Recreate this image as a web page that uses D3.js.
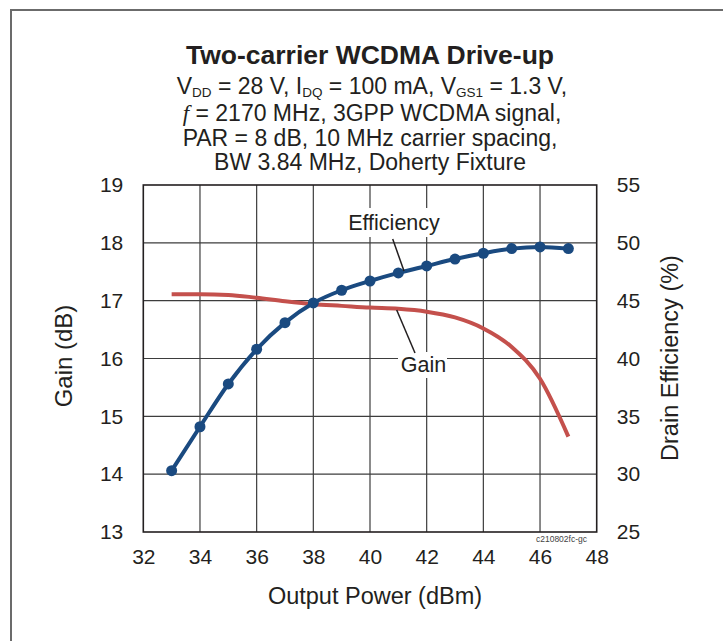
<!DOCTYPE html>
<html><head><meta charset="utf-8">
<script src="https://cdn.jsdelivr.net/npm/d3@7"></script>
<style>
html,body{margin:0;padding:0;background:#fff;}
svg{display:block;font-family:"Liberation Sans",Arial,Helvetica,sans-serif;}
</style></head>
<body>
<svg id="chart" width="723" height="641"></svg>
<script>
// ---- data ----
const outputPower = [33,34,35,36,37,38,39,40,41,42,43,44,45,46,47];
const gainDb      = [17.11,17.11,17.10,17.05,16.99,16.94,16.91,16.88,16.86,16.81,16.71,16.52,16.20,15.65,14.65];
const efficiency  = [30.3,34.1,37.8,40.8,43.1,44.8,45.9,46.7,47.4,48.0,48.6,49.1,49.5,49.65,49.5];
const xTicks  = [32,34,36,38,40,42,44,46,48];
const yLTicks = [13,14,15,16,17,18,19];
const yRTicks = [25,30,35,40,45,50,55];

const svg = d3.select("#chart");
const L = 143.3, R = 596.7, T = 185, B = 532;
const x  = d3.scaleLinear().domain([32,48]).range([L,R]);
const yL = d3.scaleLinear().domain([13,19]).range([B,T]);
const yR = d3.scaleLinear().domain([25,55]).range([B,T]);

// outer frame (top & left)
svg.append("line").attr("x1",10).attr("x2",723).attr("y1",10).attr("y2",10)
  .attr("stroke","#6b6b6b").attr("stroke-width",2);
svg.append("line").attr("x1",11).attr("x2",11).attr("y1",9).attr("y2",641)
  .attr("stroke","#6b6b6b").attr("stroke-width",2);

// title
svg.append("text").attr("x",370).attr("y",64).attr("text-anchor","middle")
  .style("font-size","26.5px").style("font-weight","bold").attr("fill","#231f20")
  .text("Two-carrier WCDMA Drive-up");
const sub = svg.append("g").attr("fill","#231f20").style("font-size","23px");
const l2 = sub.append("text").attr("x",372).attr("y",94).attr("text-anchor","middle");
const addT = (el, s, opts={}) => {
  const t = el.append("tspan").text(s);
  if (opts.sub) t.style("font-size","13.5px").attr("baseline-shift","-3");
  if (opts.it) t.style("font-style","italic").style("font-family","'Liberation Serif','Times New Roman',serif");
  return t;
};
addT(l2,"V"); addT(l2,"DD",{sub:1}); addT(l2," = 28 V, I"); addT(l2,"DQ",{sub:1});
addT(l2," = 100 mA, V"); addT(l2,"GS1",{sub:1}); addT(l2," = 1.3 V,");
const l3 = sub.append("text").attr("x",372).attr("y",121).attr("text-anchor","middle");
addT(l3,"f",{it:1}); addT(l3," = 2170 MHz, 3GPP WCDMA signal,");
sub.append("text").attr("x",370).attr("y",145.5).attr("text-anchor","middle")
  .text("PAR = 8 dB, 10 MHz carrier spacing,");
sub.append("text").attr("x",370).attr("y",170).attr("text-anchor","middle")
  .text("BW 3.84 MHz, Doherty Fixture");

// grid
const grid = svg.append("g").attr("stroke","#3d3d3d").attr("stroke-width",1.2);
grid.selectAll(".gx").data(xTicks.slice(1,-1)).join("line")
  .attr("x1",d=>x(d)).attr("x2",d=>x(d)).attr("y1",T).attr("y2",B);
grid.selectAll(".gy").data(yLTicks.slice(1,-1)).join("line")
  .attr("y1",d=>yL(d)).attr("y2",d=>yL(d)).attr("x1",L).attr("x2",R);
svg.append("rect").attr("x",L).attr("y",T).attr("width",R-L).attr("height",B-T)
  .attr("fill","none").attr("stroke","#231f20").attr("stroke-width",1.6);

// axes
const styleAxis = g => {
  g.select(".domain").remove();
  g.selectAll("text").style("font-size","21px").style("font-family","'Liberation Sans',Arial,sans-serif").attr("fill","#231f20");
};
svg.append("g").attr("transform",`translate(0,${B})`)
  .call(d3.axisBottom(x).tickValues(xTicks).tickSize(0).tickPadding(17).tickFormat(d3.format("d")))
  .call(styleAxis);
svg.append("g").attr("transform",`translate(${L},0)`)
  .call(d3.axisLeft(yL).tickValues(yLTicks).tickSize(0).tickPadding(20).tickFormat(d3.format("d")))
  .call(styleAxis);
svg.append("g").attr("transform",`translate(${R},0)`)
  .call(d3.axisRight(yR).tickValues(yRTicks).tickSize(0).tickPadding(20).tickFormat(d3.format("d")))
  .call(styleAxis);

// axis titles
svg.append("text").attr("x",375).attr("y",604).attr("text-anchor","middle")
  .style("font-size","23.5px").attr("fill","#231f20").text("Output Power (dBm)");
svg.append("text").attr("transform","translate(72,356) rotate(-90)").attr("text-anchor","middle")
  .style("font-size","24px").attr("fill","#231f20").text("Gain (dB)");
svg.append("text").attr("transform","translate(678,358) rotate(-90)").attr("text-anchor","middle")
  .style("font-size","23.5px").attr("fill","#231f20").text("Drain Efficiency (%)");

// watermark
svg.append("text").attr("x",587).attr("y",542).attr("text-anchor","end")
  .style("font-size","8.5px").attr("fill","#444").text("c210802fc-gc");

// gain line
const gainData = outputPower.map((p,i)=>({p, v:gainDb[i]}));
const effData  = outputPower.map((p,i)=>({p, v:efficiency[i]}));
svg.append("path").datum(gainData)
  .attr("d", d3.line().x(d=>x(d.p)).y(d=>yL(d.v)).curve(d3.curveMonotoneX))
  .attr("fill","none").attr("stroke","#c4504c").attr("stroke-width",4).attr("stroke-linecap","butt");

// efficiency line
svg.append("path").datum(effData)
  .attr("d", d3.line().x(d=>x(d.p)).y(d=>yR(d.v)).curve(d3.curveMonotoneX))
  .attr("fill","none").attr("stroke","#1a4a80").attr("stroke-width",4);
svg.append("g").selectAll("circle").data(effData).join("circle")
  .attr("cx",d=>x(d.p)).attr("cy",d=>yR(d.v)).attr("r",5.5).attr("fill","#1a4a80");

// callout labels
const callout = (txt, tx, ty, box, lx1, ly1, lx2, ly2) => {
  svg.append("rect").attr("x",box[0]).attr("y",box[1]).attr("width",box[2]).attr("height",box[3]).attr("fill","#fff");
  svg.append("line").attr("x1",lx1).attr("y1",ly1).attr("x2",lx2).attr("y2",ly2)
    .attr("stroke","#231f20").attr("stroke-width",1.5);
  svg.append("text").attr("x",tx).attr("y",ty).attr("text-anchor","middle")
    .style("font-size","21.5px").attr("fill","#231f20").text(txt);
};
callout("Efficiency", 394, 230, [345,208,100,29], 392.7, 239, 404, 271);
callout("Gain", 423.5, 372, [398,352,49,26], 396.7, 310, 415, 353);
</script>
</body></html>
